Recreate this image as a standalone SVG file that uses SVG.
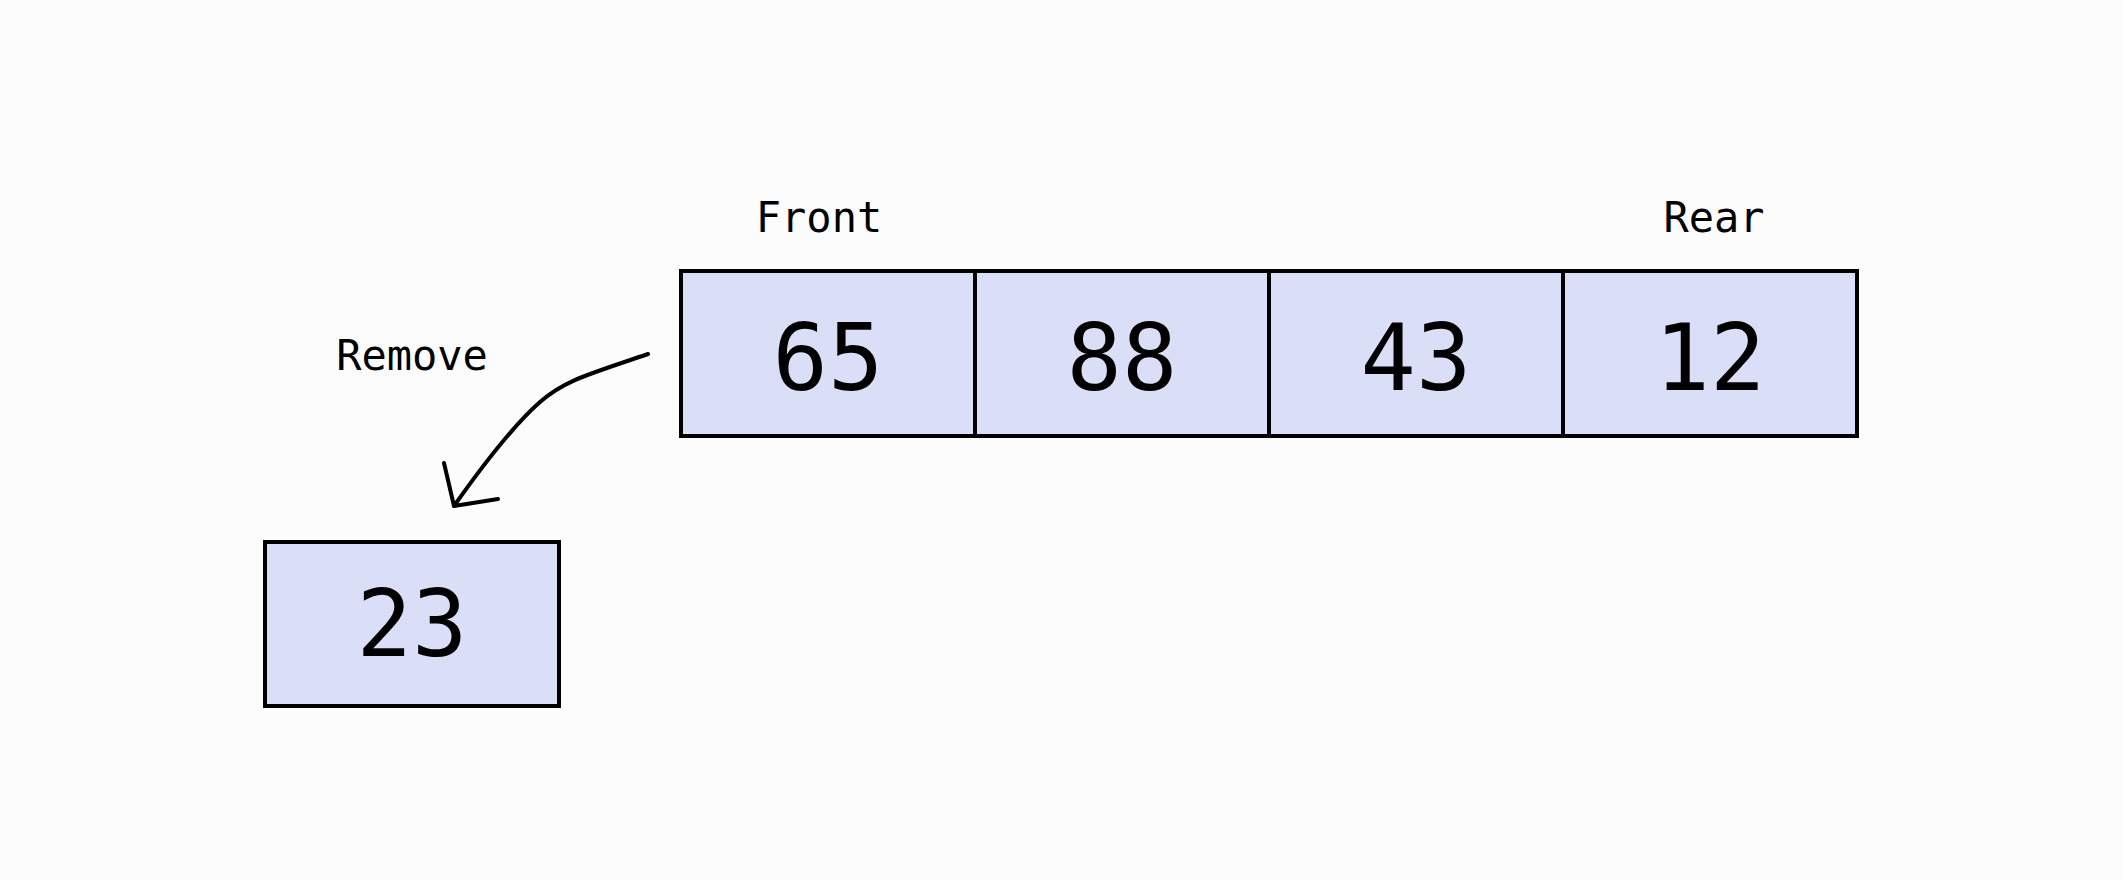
<svg xmlns="http://www.w3.org/2000/svg" width="2122" height="880" viewBox="0 0 2122 880">
<style>
.cell{fill:#dadff7;stroke:#000;stroke-width:4}
.num{font-family:"DejaVu Sans Mono","Liberation Mono",monospace;font-size:92px;fill:#000;text-anchor:middle}
.lbl{font-family:"DejaVu Sans Mono","Liberation Mono",monospace;font-size:42px;fill:#000;text-anchor:middle}
.conn{fill:none;stroke:#000;stroke-width:4;stroke-linecap:round;stroke-linejoin:round}
</style>
<rect width="2122" height="880" fill="#fcfcfc"/>
<g id="label-front"><text class="lbl" x="819" y="232">Front</text></g>
<g id="label-rear"><text class="lbl" x="1714" y="232">Rear</text></g>
<g id="label-remove"><text class="lbl" x="412" y="370">Remove</text></g>
<g id="cell-65"><rect class="cell" x="681" y="271" width="294" height="165"/><text class="num" x="828" y="390">65</text></g>
<g id="cell-88"><rect class="cell" x="975" y="271" width="294" height="165"/><text class="num" x="1122" y="390">88</text></g>
<g id="cell-43"><rect class="cell" x="1269" y="271" width="294" height="165"/><text class="num" x="1416" y="390">43</text></g>
<g id="cell-12"><rect class="cell" x="1563" y="271" width="294" height="165"/><text class="num" x="1710" y="390">12</text></g>
<g id="cell-23"><rect class="cell" x="265" y="542" width="294" height="164"/><text class="num" x="412" y="656">23</text></g>
<g id="connectors">
<path class="conn" d="M648,354 C590,374 565,380 540,402 S485,462 454,506"/>
<path class="conn" d="M444,463 L454,506 L498,499"/>
</g>
</svg>
